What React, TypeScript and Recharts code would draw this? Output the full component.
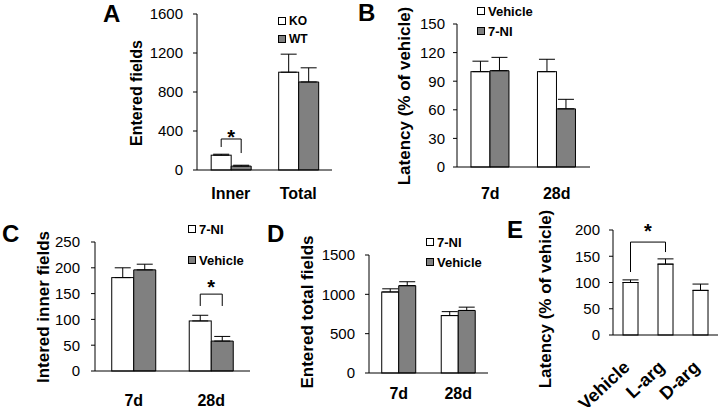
import React from 'react';
import { BarChart, Bar, XAxis, YAxis, ErrorBar, Legend, ReferenceLine } from 'recharts';

const FONT = '"Liberation Sans", Arial, sans-serif';
const GREY = '#808080';

// panel A
const aCategories = ['Inner', 'Total'];
const aKO = [152, 1003];
const aKOErr = [10, 185];
const aWT = [40, 903];
const aWTErr = [9, 145];
const aTicks = [0, 400, 800, 1200, 1600];
const aBracket = { category: 'Inner', left: 236, top: 318, right: 174, star: 380 };

// panel B
const bCategories = ['7d', '28d'];
const bVehicle = [100, 100];
const bVehicleErr = [11, 13];
const bNI = [101, 61];
const bNIErr = [14, 10];
const bTicks = [0, 30, 60, 90, 120, 150];

// panel C
const cCategories = ['7d', '28d'];
const cNI = [181, 97];
const cNIErr = [19, 11];
const cVehicle = [196, 58];
const cVehicleErr = [11, 9];
const cTicks = [0, 50, 100, 150, 200, 250];
const cBracket = { category: '28d', left: 126, top: 149, right: 126, star: 170 };

// panel D
const dCategories = ['7d', '28d'];
const dNI = [1030, 730];
const dNIErr = [40, 50];
const dVehicle = [1110, 795];
const dVehicleErr = [50, 42];
const dTicks = [0, 500, 1000, 1500];

// panel E
const eCategories = ['Vehicle', 'L-arg', 'D-arg'];
const eValues = [100, 135, 85];
const eErr = [5, 10, 12];
const eTicks = [0, 50, 100, 150, 200];
const eBracket = { from: 'Vehicle', to: 'L-arg', left: 120, top: 177, right: 158 };

const rows2 = (cats: string[], v0: number[], e0: number[], v1?: number[], e1?: number[]) =>
  cats.map((name, i) => ({
    name,
    s0: v0[i],
    s0e: [0, e0[i]],
    ...(v1 && e1 ? { s1: v1[i], s1e: [0, e1[i]] } : {}),
  }));

const ML = 80, MT = 40, MR = 12, MB = 80;

const makeShape = (bracket: any, key: string) => (props: any) => {
  const { x, y, width, height, fill, payload } = props;
  const rect = <rect x={x} y={y} width={width} height={height} fill={fill} stroke="#000" strokeWidth={1} />;
  if (!bracket || payload.name !== bracket.category) return rect;
  const ppu = height / payload[key];
  const base = y + height;
  const px = (v: number) => base - v * ppu;
  const x1 = x + width / 2;
  const x2 = x + width * 1.5;
  return (
    <g>
      {rect}
      <path d={`M${x1},${px(bracket.left)}V${px(bracket.top)}H${x2}V${px(bracket.right)}`} fill="none" stroke="#000" />
      <text x={(x1 + x2) / 2} y={px(bracket.star) + 11} textAnchor="middle" fontSize={20} fontWeight="bold" fontFamily={FONT} fill="#000">*</text>
    </g>
  );
};

const AngledTick = (props: any) => {
  const { x, y, payload } = props;
  const ax = x - 4;
  const ay = y - 1;
  return (
    <text x={ax} y={ay} transform={`rotate(-43 ${ax} ${ay})`} textAnchor="end" dy="0.35em" fontSize={18} fontWeight="bold" fontFamily={FONT} fill="#000">
      {payload.value}
    </text>
  );
};

const legendContent = (lg: any, order: string[]) => (props: any) => {
  const items = order.map((n) => (props.payload || []).find((p: any) => p.value === n)).filter(Boolean);
  return (
    <div style={{ fontFamily: FONT, fontWeight: 'bold', fontSize: lg.size, color: '#000' }}>
      {items.map((p: any) => (
        <div key={p.value} style={{ display: 'flex', alignItems: 'center', height: lg.step, whiteSpace: 'nowrap' }}>
          <span style={{ display: 'inline-block', width: 8, height: 8, boxSizing: 'border-box', border: '1px solid #000', background: p.payload?.fill ?? p.color, marginRight: 3 }} />
          {p.value}
        </div>
      ))}
    </div>
  );
};

interface PanelProps {
  plot: { x: number; y: number; w: number; h: number };
  rows: any[];
  series: { key: string; name: string; fill: string }[];
  ticks: number[];
  gap: string;
  xTickMargin: number;
  yTickMargin: number;
  legend?: { x: number; cy: number; step: number; size: number };
  bracket?: any;
  angled?: boolean;
  children?: React.ReactNode;
}

const Panel: React.FC<PanelProps> = ({ plot, rows, series, ticks, gap, xTickMargin, yTickMargin, legend, bracket, angled, children }) => {
  const left = plot.x - ML;
  const top = plot.y - MT;
  return (
    <div style={{ position: 'absolute', left, top }}>
      <BarChart
        width={plot.w + ML + MR}
        height={plot.h + MT + MB}
        data={rows}
        margin={{ top: MT, right: MR, bottom: 0, left: 0 }}
        barGap={0}
        barCategoryGap={gap}
      >
        <XAxis
          dataKey="name"
          height={MB}
          interval={0}
          axisLine={{ stroke: '#000' }}
          tickLine={false}
          tickSize={0}
          tickMargin={xTickMargin}
          tick={angled ? <AngledTick /> : { fill: '#000', fontSize: 16, fontWeight: 'bold', fontFamily: FONT }}
        />
        <YAxis
          width={ML}
          domain={[ticks[0], ticks[ticks.length - 1]]}
          ticks={ticks}
          interval={0}
          axisLine={{ stroke: '#000' }}
          tickLine={{ stroke: '#000' }}
          tickSize={4}
          tickMargin={yTickMargin}
          tick={{ fill: '#000', fontSize: 15, fontFamily: FONT }}
        />
        {legend && (
          <Legend
            layout="vertical"
            align="center"
            verticalAlign="middle"
            wrapperStyle={{ left: legend.x - left, top: legend.cy - legend.step / 2 - top, width: 'auto' }}
            content={legendContent(legend, series.map((s) => s.name))}
          />
        )}
        {series.map((s, i) => (
          <Bar
            key={s.key}
            dataKey={s.key}
            name={s.name}
            fill={s.fill}
            stroke="#000"
            isAnimationActive={false}
            shape={i === 0 ? makeShape(bracket, s.key) : undefined}
          >
            <ErrorBar dataKey={s.key + 'e'} width={8} stroke="#000" strokeWidth={1} direction="y" />
          </Bar>
        ))}
        {children}
      </BarChart>
    </div>
  );
};

const letterStyle = { fontFamily: FONT, fontWeight: 'bold' as const, fontSize: 24, fill: '#000' };
const yLabel = (x: number, y: number, size: number, text: string) => (
  <text x={x} y={y} transform={`rotate(-90 ${x} ${y})`} textAnchor="middle" fontFamily={FONT} fontWeight="bold" fontSize={size} fill="#000">
    {text}
  </text>
);

export default function App() {
  return (
    <div style={{ position: 'absolute', left: 0, top: 0, width: 720, height: 407, overflow: 'hidden', background: '#fff' }}>
      <Panel
        plot={{ x: 197, y: 14, w: 135, h: 156 }}
        rows={rows2(aCategories, aKO, aKOErr, aWT, aWTErr)}
        series={[{ key: 's0', name: 'KO', fill: '#fff' }, { key: 's1', name: 'WT', fill: GREY }]}
        ticks={aTicks}
        gap="21%"
        xTickMargin={18}
        yTickMargin={10}
        legend={{ x: 278, cy: 20.5, step: 18, size: 12 }}
        bracket={aBracket}
      />
      <Panel
        plot={{ x: 457, y: 24, w: 133, h: 143 }}
        rows={rows2(bCategories, bVehicle, bVehicleErr, bNI, bNIErr)}
        series={[{ key: 's0', name: 'Vehicle', fill: '#fff' }, { key: 's1', name: '7-NI', fill: GREY }]}
        ticks={bTicks}
        gap="21%"
        xTickMargin={21}
        yTickMargin={8}
        legend={{ x: 477, cy: 11, step: 20, size: 13 }}
      />
      <Panel
        plot={{ x: 95, y: 242, w: 155, h: 129 }}
        rows={rows2(cCategories, cNI, cNIErr, cVehicle, cVehicleErr)}
        series={[{ key: 's0', name: '7-NI', fill: '#fff' }, { key: 's1', name: 'Vehicle', fill: GREY }]}
        ticks={cTicks}
        gap="21.6%"
        xTickMargin={24}
        yTickMargin={11}
        legend={{ x: 188, cy: 229, step: 31, size: 13 }}
        bracket={cBracket}
      />
      <Panel
        plot={{ x: 369, y: 255, w: 119, h: 118 }}
        rows={rows2(dCategories, dNI, dNIErr, dVehicle, dVehicleErr)}
        series={[{ key: 's0', name: '7-NI', fill: '#fff' }, { key: 's1', name: 'Vehicle', fill: GREY }]}
        ticks={dTicks}
        gap="21.4%"
        xTickMargin={15}
        yTickMargin={10}
        legend={{ x: 426, cy: 242, step: 20, size: 13 }}
      />
      <Panel
        plot={{ x: 613, y: 230, w: 105, h: 105 }}
        rows={rows2(eCategories, eValues, eErr)}
        series={[{ key: 's0', name: 'Latency', fill: '#fff' }]}
        ticks={eTicks}
        gap="28.6%"
        xTickMargin={30}
        yTickMargin={9}
        angled
      >
        <ReferenceLine segment={[{ x: eBracket.from, y: eBracket.left }, { x: eBracket.from, y: eBracket.top }]} stroke="#000" ifOverflow="visible" />
        <ReferenceLine
          segment={[{ x: eBracket.from, y: eBracket.top }, { x: eBracket.to, y: eBracket.top }]}
          stroke="#000"
          ifOverflow="visible"
          label={{ value: '*', position: 'top', offset: 4, fontSize: 20, fontWeight: 'bold', fill: '#000', fontFamily: FONT }}
        />
        <ReferenceLine segment={[{ x: eBracket.to, y: eBracket.top }, { x: eBracket.to, y: eBracket.right }]} stroke="#000" ifOverflow="visible" />
      </Panel>
      <svg width={720} height={407} style={{ position: 'absolute', left: 0, top: 0, pointerEvents: 'none' }}>
        <text x={103} y={22} {...letterStyle}>A</text>
        <text x={358} y={21} {...letterStyle}>B</text>
        <text x={2} y={242} {...letterStyle}>C</text>
        <text x={267} y={242} {...letterStyle}>D</text>
        <text x={507} y={238} {...letterStyle}>E</text>
        {yLabel(142, 93, 16, 'Entered fields')}
        {yLabel(410, 96, 17, 'Latency (% of vehicle)')}
        {yLabel(49, 307, 17, 'Intered inner fields')}
        {yLabel(313, 312, 17, 'Entered total fields')}
        {yLabel(551, 299, 17, 'Latency (% of vehicle)')}
      </svg>
    </div>
  );
}
